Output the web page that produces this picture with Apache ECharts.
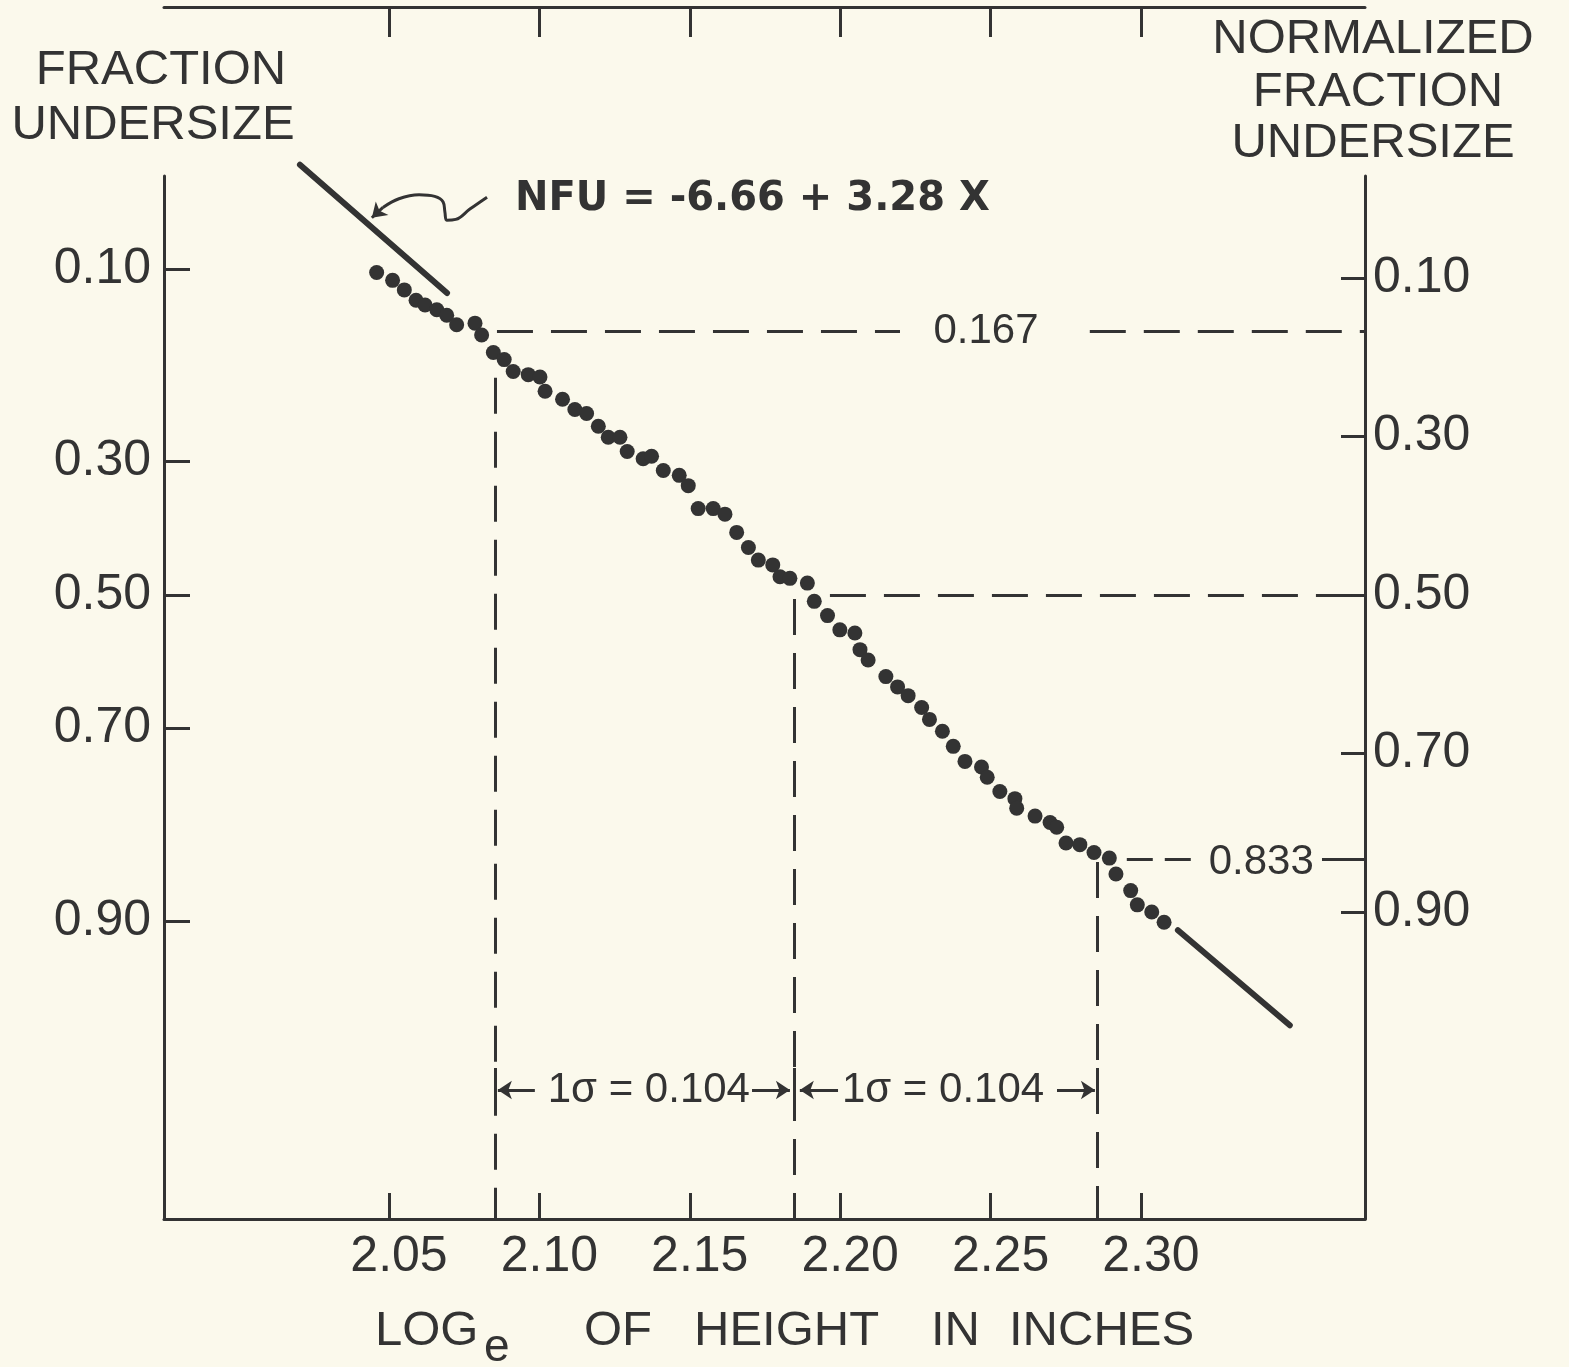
<!DOCTYPE html>
<html>
<head>
<meta charset="utf-8">
<script src="https://cdn.jsdelivr.net/npm/echarts@6/dist/echarts.min.js"></script>
<style>
html, body { margin: 0; padding: 0; background: #fbf9ec; }
#chart { width: 1569px; height: 1367px; }
</style>
</head>
<body>
<div id="chart"></div>
<script>
// measured points: log_e of height (x) vs normalized fraction undersize (y)
const dotX = [2.0459, 2.0512, 2.0551, 2.0590, 2.0620, 2.0659, 2.0692, 2.0725, 2.0786, 2.0808,
  2.0847, 2.0883, 2.0913, 2.0963, 2.1002, 2.1019, 2.1077, 2.1118, 2.1157, 2.1196,
  2.1229, 2.1268, 2.1292, 2.1345, 2.1373, 2.1412, 2.1465, 2.1495, 2.1528, 2.1578,
  2.1617, 2.1656, 2.1695, 2.1728, 2.1776, 2.1800, 2.1833, 2.1891, 2.1914, 2.1958,
  2.1999, 2.2049, 2.2066, 2.2093, 2.2152, 2.2191, 2.2226, 2.2271, 2.2297, 2.2340,
  2.2376, 2.2415, 2.2470, 2.2489, 2.2531, 2.2581, 2.2587, 2.2648, 2.2698, 2.2720,
  2.2751, 2.2797, 2.2844, 2.2895, 2.2917, 2.2966, 2.2988, 2.3036, 2.3077];
const dotNFU = [0.093, 0.103, 0.115, 0.128, 0.134, 0.140, 0.147, 0.159, 0.157, 0.172,
  0.194, 0.203, 0.218, 0.222, 0.225, 0.243, 0.253, 0.266, 0.271, 0.287,
  0.301, 0.301, 0.319, 0.328, 0.325, 0.343, 0.349, 0.362, 0.391, 0.391,
  0.398, 0.421, 0.440, 0.456, 0.462, 0.477, 0.479, 0.485, 0.508, 0.526,
  0.544, 0.548, 0.569, 0.582, 0.603, 0.616, 0.627, 0.642, 0.657, 0.672,
  0.691, 0.710, 0.717, 0.730, 0.748, 0.757, 0.769, 0.779, 0.787, 0.793,
  0.813, 0.815, 0.825, 0.832, 0.852, 0.873, 0.891, 0.900, 0.913];

// fitted line NFU = -6.66 + 3.28 X, drawn only beyond the dots
const fitSegA = [[2.0204, -0.043], [2.0693, 0.119]];
const fitSegB = [[2.3123, 0.923], [2.3495, 1.043]];

const xMin = 1.9752, xMax = 2.3745;
const yMin = -0.0287, yMax = 1.2874;
const xTicks = [2.05, 2.10, 2.15, 2.20, 2.25, 2.30];
const nfuTicks = [0.10, 0.30, 0.50, 0.70, 0.90];
const fuTicks = [0.10, 0.30, 0.50, 0.70, 0.90];   // probability scale on the left
const probitScale = 0.321;

// guide lines at -1 sigma, median, +1 sigma
const sigmaX = [2.0852, 2.1846, 2.2854];
const sigmaNFU = [0.167, 0.5, 0.833];
const sigmaText = '1σ = 0.104';

// squiggly pointer from the equation to the line
const pointer = [[2.0826, -0.002], [2.0769, 0.013], [2.0722, 0.026], [2.0692, 0.027],
  [2.0686, 0.017], [2.0680, 0.004], [2.0652, -0.003], [2.0600, -0.005], [2.0533, 0.000], [2.0480, 0.011]];
const pointerTip = [[2.0480, 0.011], [2.0443, 0.024]];

function probit(p) {
  const q = p < 0.5 ? p : 1 - p;
  const t = Math.sqrt(-2 * Math.log(q));
  const z = t - (2.515517 + 0.802853 * t + 0.010328 * t * t) /
    (1 + 1.432788 * t + 0.189269 * t * t + 0.001308 * t * t * t);
  return p < 0.5 ? -z : z;
}
const fuPos = fuTicks.map(p => 0.5 + probitScale * probit(p));

const ink = '#333333';
const font = 'Liberation Sans, Arial, sans-serif';
const dash = [36, 18];

var chart = echarts.init(document.getElementById('chart'));

const guide = [];
guide.push({ coords: [[sigmaX[0] + 0.0007, sigmaNFU[0]], [2.2199, sigmaNFU[0]]] });
guide.push({ coords: [[2.2830, sigmaNFU[0]], [xMax, sigmaNFU[0]]] });
guide.push({ coords: [[2.1966, sigmaNFU[1]], [xMax, sigmaNFU[1]]] });
guide.push({ coords: [[2.2953, sigmaNFU[2]], [2.3196, sigmaNFU[2]]], lineStyle: { type: [26, 12] } });
guide.push({ coords: [[sigmaX[0], 0.226], [sigmaX[0], yMax]] });
guide.push({ coords: [[sigmaX[1], 0.505], [sigmaX[1], yMax]] });
guide.push({ coords: [[sigmaX[2], 0.837], [sigmaX[2], yMax]] });

const arrowY = 1.1246;
const solid = [
  { coords: [[2.3602, sigmaNFU[2]], [xMax, sigmaNFU[2]]] }
];
sigmaX.forEach(x => solid.push({ coords: [[x, 1.097], [x, 1.150]] }));

const arrows = [
  { coords: [[2.0985, arrowY], [2.0862, arrowY]] },
  { coords: [[2.1707, arrowY], [2.1833, arrowY]] },
  { coords: [[2.1993, arrowY], [2.1866, arrowY]] },
  { coords: [[2.2721, arrowY], [2.2847, arrowY]] },
  { coords: pointerTip }
];

const notes = [
  { value: [2.2485, sigmaNFU[0]], label: { formatter: '0.167' } },
  { value: [2.3400, sigmaNFU[2] + 0.004], label: { formatter: '0.833' } },
  { value: [2.1364, arrowY], label: { formatter: sigmaText } },
  { value: [2.2342, arrowY], label: { formatter: sigmaText } }
];

var option = {
  backgroundColor: '#fbf9ec',
  animation: false,
  grid: [
    { left: 164, right: 204, top: 176, bottom: 148 },
    { left: 164, right: 204, top: 7, height: 30 }
  ],
  xAxis: [
    {
      type: 'value', gridIndex: 0, min: xMin, max: xMax, position: 'bottom',
      splitLine: { show: false },
      axisLine: { onZero: false, lineStyle: { color: ink, width: 3 } },
      axisTick: { inside: true, length: 26, customValues: xTicks, lineStyle: { color: ink, width: 3 } },
      axisLabel: {
        customValues: xTicks, margin: 13, color: ink, fontSize: 50, fontFamily: font,
        padding: [0, 0, 0, 20],
        formatter: v => v.toFixed(2)
      }
    },
    {
      type: 'value', gridIndex: 1, min: xMin, max: xMax, position: 'top',
      splitLine: { show: false },
      axisLine: { onZero: false, lineStyle: { color: ink, width: 3 } },
      axisTick: { inside: true, length: 30, customValues: xTicks, lineStyle: { color: ink, width: 3 } },
      axisLabel: { show: false }
    }
  ],
  yAxis: [
    {
      type: 'value', gridIndex: 0, min: yMin, max: yMax, inverse: true, position: 'right',
      splitLine: { show: false },
      axisLine: { onZero: false, lineStyle: { color: ink, width: 3 } },
      axisTick: { inside: true, length: 24, customValues: nfuTicks, lineStyle: { color: ink, width: 3 } },
      axisLabel: {
        customValues: nfuTicks, margin: 8, color: ink, fontSize: 50, fontFamily: font,
        formatter: v => v.toFixed(2)
      }
    },
    {
      type: 'value', gridIndex: 0, min: yMin, max: yMax, inverse: true, position: 'left',
      splitLine: { show: false },
      axisLine: { onZero: false, lineStyle: { color: ink, width: 3 } },
      axisTick: { inside: true, length: 26, customValues: fuPos, lineStyle: { color: ink, width: 3 } },
      axisLabel: {
        customValues: fuPos, margin: 13, color: ink, fontSize: 50, fontFamily: font,
        formatter: function (v) {
          let best = 0;
          fuPos.forEach((p, i) => { if (Math.abs(p - v) < Math.abs(fuPos[best] - v)) best = i; });
          return fuTicks[best].toFixed(2);
        }
      }
    },
    { type: 'value', gridIndex: 1, show: false, min: 0, max: 1 }
  ],
  series: [
    {
      name: 'guides', type: 'lines', coordinateSystem: 'cartesian2d', xAxisIndex: 0, yAxisIndex: 0,
      z: 2, lineStyle: { color: ink, width: 3, type: dash, opacity: 1 },
      data: guide
    },
    {
      name: 'solid', type: 'lines', coordinateSystem: 'cartesian2d', xAxisIndex: 0, yAxisIndex: 0,
      z: 2, lineStyle: { color: ink, width: 3, type: 'solid', opacity: 1 },
      data: solid
    },
    {
      name: 'arrows', type: 'lines', coordinateSystem: 'cartesian2d', xAxisIndex: 0, yAxisIndex: 0,
      z: 3, symbol: ['none', 'arrow'], symbolSize: 14, clip: false,
      lineStyle: { color: ink, width: 3, opacity: 1 },
      data: arrows
    },
    {
      name: 'pointer', type: 'line', xAxisIndex: 0, yAxisIndex: 0,
      smooth: 0.4, showSymbol: false, z: 3, clip: false,
      lineStyle: { color: ink, width: 3 },
      data: pointer
    },
    {
      name: 'fit', type: 'lines', coordinateSystem: 'cartesian2d', xAxisIndex: 0, yAxisIndex: 0,
      z: 3, clip: false, lineStyle: { color: ink, width: 6, opacity: 1, cap: 'round' },
      data: [{ coords: fitSegA }, { coords: fitSegB }]
    },
    {
      name: 'dots', type: 'scatter', xAxisIndex: 0, yAxisIndex: 0, z: 4,
      symbolSize: 15, itemStyle: { color: ink, opacity: 1 },
      data: dotX.map((x, i) => [x, dotNFU[i]])
    },
    {
      name: 'notes', type: 'scatter', xAxisIndex: 0, yAxisIndex: 0, z: 5,
      symbolSize: 0, itemStyle: { color: ink },
      label: { show: true, position: 'inside', color: ink, opacity: 1, fontSize: 42, fontFamily: font },
      data: notes
    }
  ],
  graphic: [
    { type: 'text', style: { text: 'FRACTION', x: 161, y: 70, textAlign: 'center', textVerticalAlign: 'middle', font: '49px ' + font, fill: ink } },
    { type: 'text', style: { text: 'UNDERSIZE', x: 153, y: 125, textAlign: 'center', textVerticalAlign: 'middle', font: '49px ' + font, fill: ink } },
    { type: 'text', style: { text: 'NORMALIZED', x: 1373, y: 39, textAlign: 'center', textVerticalAlign: 'middle', font: '49px ' + font, fill: ink } },
    { type: 'text', style: { text: 'FRACTION', x: 1378, y: 92, textAlign: 'center', textVerticalAlign: 'middle', font: '49px ' + font, fill: ink } },
    { type: 'text', style: { text: 'UNDERSIZE', x: 1373, y: 143, textAlign: 'center', textVerticalAlign: 'middle', font: '49px ' + font, fill: ink } },
    { type: 'text', style: { text: 'NFU = -6.66 + 3.28 X', x: 515, y: 200, textAlign: 'left', textVerticalAlign: 'middle', font: 'bold 40px DejaVu Sans', fill: ink } },
    { type: 'text', style: { text: 'LOG', x: 375, y: 1331, textAlign: 'left', textVerticalAlign: 'middle', font: '49px ' + font, fill: ink } },
    { type: 'text', style: { text: 'e', x: 484, y: 1348, textAlign: 'left', textVerticalAlign: 'middle', font: '46px ' + font, fill: ink } },
    { type: 'text', style: { text: 'OF', x: 584, y: 1331, textAlign: 'left', textVerticalAlign: 'middle', font: '49px ' + font, fill: ink } },
    { type: 'text', style: { text: 'HEIGHT', x: 694, y: 1331, textAlign: 'left', textVerticalAlign: 'middle', font: '49px ' + font, fill: ink } },
    { type: 'text', style: { text: 'IN', x: 931, y: 1331, textAlign: 'left', textVerticalAlign: 'middle', font: '49px ' + font, fill: ink } },
    { type: 'text', style: { text: 'INCHES', x: 1009, y: 1331, textAlign: 'left', textVerticalAlign: 'middle', font: '49px ' + font, fill: ink } }
  ]
};

option && chart.setOption(option);
</script>
</body>
</html>
